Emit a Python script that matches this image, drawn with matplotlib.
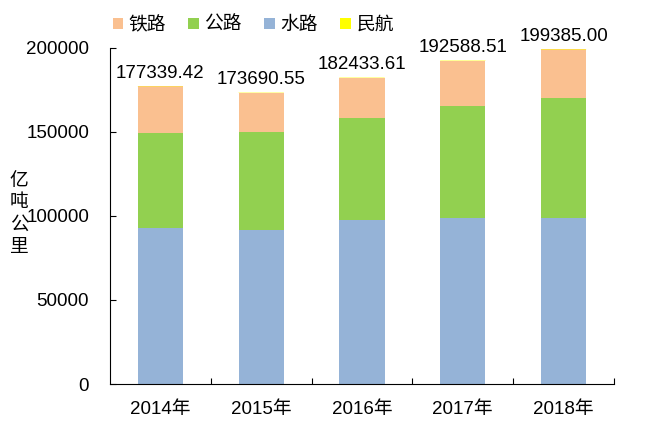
import matplotlib
matplotlib.use('Agg')
import numpy as np
import matplotlib.pyplot as plt

plt.rcParams['font.family'] = ['Liberation Sans', 'Noto Sans CJK SC', 'DejaVu Sans']

years = ['2014年', '2015年', '2016年', '2017年', '2018年']
# 亿吨公里
water = [92774.56, 91772.45, 97338.80, 98611.25, 99052.82]
road = [56846.90, 57955.72, 61080.10, 66771.52, 71249.21]
rail = [27530.19, 23754.31, 23792.26, 26962.20, 28820.99]
air = [187.77, 208.07, 222.45, 243.54, 262.50]
totals = ['177339.42', '173690.55', '182433.61', '192588.51', '199385.00']

fs = 13.5
fig = plt.figure(figsize=(6.5, 4.28), dpi=100)
ax = fig.add_axes([0.1692, 0.1028, 0.7754, 0.7851])

x = np.arange(len(years))
w = 0.45
b1 = np.array(water)
b2 = b1 + np.array(road)
b3 = b2 + np.array(rail)
ax.bar(x, water, w, color='#95B3D7', label='水路', zorder=2)
ax.bar(x, road, w, bottom=b1, color='#92D050', label='公路', zorder=2)
ax.bar(x, rail, w, bottom=b2, color='#FAC090', label='铁路', zorder=2)
air_bars = ax.bar(x, air, w, bottom=b3, color='#FFFF00', label='民航', zorder=2)
for p in air_bars:
    p.set_snap(False)

tops = b3 + np.array(air)
for xi, t, s in zip(x, tops, totals):
    ax.annotate(s, (xi, t), xytext=(0, 3), textcoords='offset points',
                ha='center', va='bottom', fontsize=fs)

ax.set_xlim(-0.5, len(years) - 0.5)
ax.set_ylim(0, 200000)
ax.set_yticks([0, 50000, 100000, 150000, 200000])
ax.set_yticklabels(['0', '50000', '100000', '150000', '200000'], fontsize=fs)
ax.set_xticks(x)
ax.set_xticklabels(years, fontsize=fs)
ax.tick_params(axis='x', length=0, pad=12)
ax.set_xticks(np.arange(len(years)) + 0.5, minor=True)
ax.tick_params(axis='x', which='minor', direction='in', length=4, width=0.8)
ax.tick_params(axis='y', direction='in', length=4, width=0.8, pad=15)

for s in ['top', 'right']:
    ax.spines[s].set_visible(False)
for s in ['left', 'bottom']:
    ax.spines[s].set_linewidth(0.8)
    ax.spines[s].set_color('#000000')

for i, ch in enumerate('亿吨公里'):
    fig.text(19 / 650, 1 - (181 + 22 * i) / 428, ch, fontsize=fs,
             ha='center', va='center', rotation=0)

h, l = ax.get_legend_handles_labels()
order = [2, 1, 0, 3]
ax.legend([h[i] for i in order], [l[i] for i in order], ncol=4, frameon=False,
          fontsize=fs, handlelength=0.55, handleheight=0.55, handletextpad=0.3,
          columnspacing=1.2, loc='center left', bbox_to_anchor=(0.005, 1.068),
          borderaxespad=0, borderpad=0)

fig.savefig('out.png', dpi=100)
